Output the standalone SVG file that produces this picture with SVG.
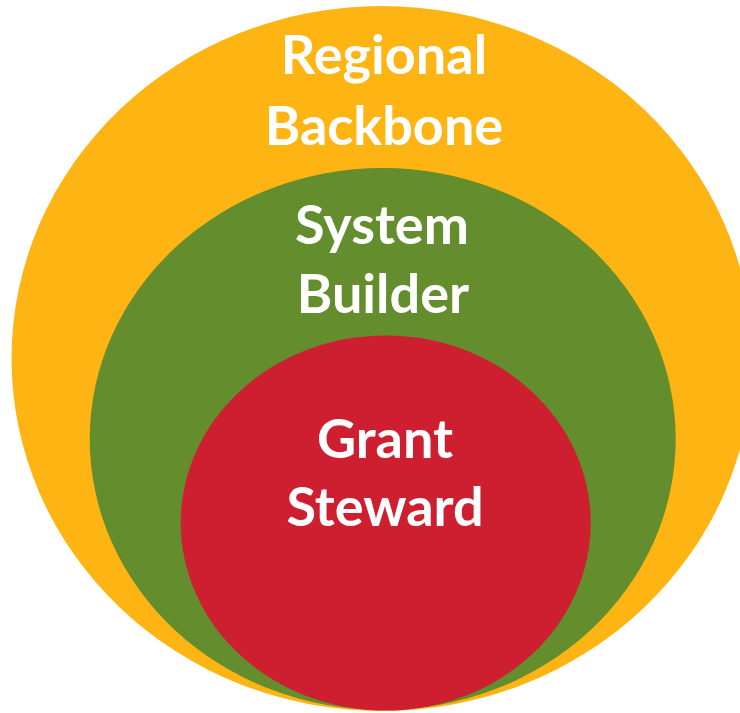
<svg xmlns="http://www.w3.org/2000/svg" width="740" height="713" viewBox="0 0 740 713">
  <style>
    .lbl { font-family: Lato, "Open Sans", "Liberation Sans", sans-serif; font-weight: 700; font-size: 54px; fill: #ffffff; text-anchor: middle; }
  </style>
  <rect width="740" height="713" fill="#ffffff"/>
  <g id="regional-backbone">
    <ellipse cx="382" cy="358.5" rx="370.5" ry="352.5" fill="#FEB514"/>
    <text class="lbl" x="384" y="74">Regional</text>
    <text class="lbl" x="384" y="145">Backbone</text>
  </g>
  <g id="system-builder">
    <ellipse cx="382.7" cy="439" rx="293" ry="271" fill="#648D2E"/>
    <text class="lbl" x="382" y="244">System</text>
    <text class="lbl" x="383" y="313">Builder</text>
  </g>
  <g id="grant-steward">
    <ellipse cx="385.7" cy="523" rx="205" ry="187.5" fill="#CD1F2F"/>
    <text class="lbl" x="385" y="458">Grant</text>
    <text class="lbl" x="385" y="526">Steward</text>
  </g>
  <g id="connectors"/>
</svg>
